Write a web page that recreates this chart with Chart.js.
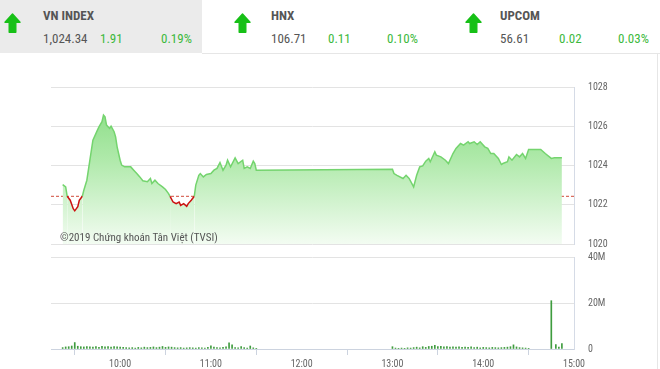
<!DOCTYPE html>
<html><head><meta charset="utf-8">
<script src="https://cdn.jsdelivr.net/npm/chart.js@4/dist/chart.umd.min.js"></script>
<style>
html,body{margin:0;padding:0;background:#fff;}
#wrap{position:relative;width:660px;height:369px;overflow:hidden;background:#fff;font-family:'Liberation Sans Narrow','Roboto Condensed','Arial Narrow',Roboto,sans-serif;}
.abs{position:absolute;white-space:nowrap;line-height:13px;font-size:13px;}
.name{font-weight:bold;color:#555;}
.val{color:#555;}
.chg{color:#3cb93c;}
canvas{position:absolute;left:0;}
</style>
</head><body>
<div id="wrap">
  <div class="abs" style="left:0;top:0;width:202px;height:53px;background:#ebebeb;"></div>
  <div class="abs" style="left:202px;top:53px;width:458px;height:1px;background:#e6e6e6;"></div>
  <div class="abs" style="left:657px;top:53px;width:1px;height:316px;background:#e6e6e6;"></div>
  <div id="hdr"></div>
  <canvas id="top" width="660" height="175" style="top:80px"></canvas>
  <canvas id="bot" width="660" height="119" style="top:250px"></canvas>
  <div class="abs" style="left:60px;top:231px;font-size:11px;color:#555;">©2019 Chứng khoán Tân Việt (TVSI)</div>
</div>
<script>
// ---- header data ----
const indexNames = ['VN INDEX','HNX','UPCOM'];
const indexValues = ['1,024.34','106.71','56.61'];
const indexChanges = ['1.91','0.11','0.02'];
const indexPercents = ['0.19%','0.10%','0.03%'];

// ---- index line data (time, value) ----
const refValue = 1022.43;
const lineTimes = ['09:22','09:24','09:25','09:27','09:29','09:30','09:32','09:33','09:35','09:36','09:38','09:40','09:42','09:45','09:46','09:48','09:49','09:50','09:51','09:53','09:54','09:56','09:57','09:58','10:00','10:01','10:03','10:07','10:09','10:11','10:13','10:15','10:18','10:20','10:21','10:23','10:25','10:28','10:30','10:32','10:33','10:35','10:37','10:39','10:40','10:42','10:44','10:45','10:47','10:49','10:50','10:52','10:53','10:55','10:57','11:00','11:02','11:04','11:06','11:08','11:10','11:11','11:13','11:16','11:18','11:21','11:22','11:24','11:26','11:28','11:29','11:30','13:00','13:01','13:03','13:07','13:09','13:11','13:14','13:16','13:18','13:20','13:22','13:24','13:25','13:28','13:29','13:32','13:35','13:37','13:40','13:42','13:45','13:47','13:50','13:51','13:54','13:56','13:58','14:01','14:03','14:05','14:07','14:10','14:12','14:13','14:16','14:17','14:19','14:22','14:24','14:26','14:28','14:30','14:34','14:38','14:41','14:45','14:47','14:52'];
const lineValues = [1023.03,1022.91,1022.43,1022.23,1021.80,1021.69,1021.90,1022.23,1022.43,1022.74,1023.25,1024.27,1025.29,1025.80,1025.97,1026.23,1026.57,1026.48,1026.06,1025.89,1026.00,1025.72,1025.46,1024.95,1024.27,1024.02,1023.93,1023.93,1023.76,1023.59,1023.42,1023.22,1023.17,1023.34,1023.08,1023.25,1023.08,1022.91,1022.78,1022.57,1022.43,1022.14,1022.06,1022.14,1021.97,1022.06,1021.92,1022.06,1022.23,1022.43,1023.00,1023.50,1023.59,1023.42,1023.54,1023.59,1023.76,1023.85,1024.15,1023.76,1024.02,1024.27,1023.93,1024.39,1024.10,1024.27,1023.85,1023.93,1023.85,1024.22,1024.10,1023.76,1023.81,1023.59,1023.50,1023.34,1023.50,1023.34,1022.91,1023.50,1023.93,1023.98,1024.22,1024.36,1024.19,1024.70,1024.53,1024.44,1024.27,1024.10,1024.61,1024.87,1025.12,1025.04,1025.21,1025.12,1025.21,1025.07,1025.21,1024.95,1024.87,1024.61,1024.61,1024.36,1024.05,1024.10,1024.19,1024.44,1024.27,1024.56,1024.44,1024.61,1024.36,1024.82,1024.82,1024.82,1024.61,1024.36,1024.39,1024.39];

// ---- volume data (time, millions) ----
const volTimes = ['09:22','09:24','09:26','09:28','09:30','09:32','09:34','09:36','09:38','09:40','09:42','09:44','09:46','09:48','09:50','09:52','09:54','09:56','09:58','10:00','10:02','10:04','10:06','10:08','10:10','10:12','10:14','10:16','10:18','10:20','10:22','10:24','10:26','10:28','10:30','10:32','10:34','10:36','10:38','10:40','10:42','10:44','10:46','10:48','10:50','10:52','10:54','10:56','10:58','11:00','11:02','11:04','11:06','11:08','11:10','11:12','11:14','11:16','11:18','11:20','11:22','11:24','11:26','11:28','11:30','13:00','13:02','13:04','13:06','13:08','13:10','13:12','13:14','13:16','13:18','13:20','13:22','13:24','13:26','13:28','13:30','13:32','13:34','13:36','13:38','13:40','13:42','13:44','13:46','13:48','13:50','13:52','13:54','13:56','13:58','14:00','14:02','14:04','14:06','14:08','14:10','14:12','14:14','14:16','14:18','14:20','14:22','14:24','14:26','14:28','14:30','14:45','14:48','14:50','14:52'];
const volValues = [0.6,0.9,1.0,1.3,2.8,1.2,1.0,0.9,1.1,0.9,0.8,1.0,0.7,1.2,0.9,1.0,0.8,1.1,0.9,0.8,0.7,0.6,0.5,0.6,0.4,0.7,0.5,0.8,0.6,0.7,0.9,0.6,0.8,1.1,0.7,0.9,0.8,0.6,0.5,0.6,0.4,0.5,0.6,0.5,0.4,0.6,0.5,0.4,0.7,1.4,0.8,0.6,0.5,0.7,0.9,2.7,1.8,0.6,0.5,1.1,0.6,0.4,1.3,0.5,0.3,1.0,0.4,0.3,0.4,0.3,0.5,0.4,0.6,0.8,0.5,1.0,0.7,1.1,1.2,1.6,1.0,1.2,0.9,1.0,0.8,0.9,0.8,0.9,0.7,0.8,0.7,0.9,0.6,0.8,0.5,0.7,0.6,0.5,0.7,0.6,0.5,0.6,0.7,0.8,1.0,1.8,0.9,0.6,0.5,0.4,0.3,21.0,1.9,0.8,2.4];

// ---- axis ticks ----
const timeTickLabels = ['10:00','11:00','12:00','13:00','14:00','15:00'];
const priceTicks = [1020,1022,1024,1026,1028];
const volTicks = [0,20,40];
const axisStart = '09:14';
const axisEnd = '15:00';

const toMin = t => { const [h,m] = t.split(':').map(Number); return (h-9)*60+m; };
const X_MIN = toMin(axisStart)+0.3, X_MAX = toMin(axisEnd);
const narrow = "'Liberation Sans Narrow','Roboto Condensed','Arial Narrow',Roboto,sans-serif";

// header
(function(){
  const colX = [[4,43,100,161],[234,271,328,387],[465,500,559,618]];
  const hdr = document.getElementById('hdr');
  let html='';
  indexNames.forEach((n,i)=>{
    const c = colX[i];
    html += `<svg class="abs" style="left:${c[0]}px;top:13px" width="17" height="20" viewBox="0 0 17 20"><polygon points="8.5,1 16,9.3 11.8,9.3 11.8,19.3 5.2,19.3 5.2,9.3 1,9.3" fill="#17c017" stroke="#17c017" stroke-width="1.4" stroke-linejoin="round"/></svg>`;
    html += `<div class="abs name" style="left:${c[1]}px;top:9px">${n}</div>`;
    html += `<div class="abs val" style="left:${c[1]}px;top:32px">${indexValues[i]}</div>`;
    html += `<div class="abs chg" style="left:${c[2]}px;top:32px">${indexChanges[i]}</div>`;
    html += `<div class="abs chg" style="left:${c[3]}px;top:32px">${indexPercents[i]}</div>`;
  });
  hdr.innerHTML = html;
})();

const linePts = lineTimes.map((t,i)=>({x:toMin(t), y:lineValues[i]}));
const volPts = volTimes.map((t,i)=>({x:toMin(t), y:volValues[i]*1e6}));
const tickVals = timeTickLabels.map(toMin);

const GREEN_LINE = '#74d46e', RED_LINE = '#cc1111';

new Chart(document.getElementById('top'), {
  type:'line',
  data:{datasets:[
    {data:linePts, borderColor:GREEN_LINE, borderWidth:1.5, pointRadius:0, tension:0, fill:'start',
     backgroundColor:(c)=>{const a=c.chart.chartArea; if(!a) return 'rgba(0,0,0,0)';
       const g=c.chart.ctx.createLinearGradient(0,a.top,0,a.bottom);
       g.addColorStop(0,'#7fd97a'); g.addColorStop(0.45,'#aee9a9'); g.addColorStop(1,'#f3fcf2'); return g;},
     segment:{borderColor:(s)=> (s.p0.parsed.y<=refValue+0.001 && s.p1.parsed.y<=refValue+0.001)? RED_LINE : GREEN_LINE}},
    {data:[{x:X_MIN,y:refValue},{x:X_MAX,y:refValue}], borderColor:'#d04a3a', borderDash:[3,2], borderWidth:1, pointRadius:0, fill:false}
  ]},
  options:{
    responsive:false, animation:false, events:[],
    layout:{padding:{left:51,top:7,right:0,bottom:11}},
    plugins:{legend:{display:false}, tooltip:{enabled:false}},
    scales:{
      x:{type:'linear', min:X_MIN, max:X_MAX, display:false},
      y:{position:'right', min:priceTicks[0], max:priceTicks[priceTicks.length-1],
         afterBuildTicks:(s)=>{s.ticks=priceTicks.map(v=>({value:v}));},
         ticks:{padding:0, color:'#666', font:{family:narrow,size:10}, callback:(v)=>String(v)},
         grid:{color:'#e3e3e3', drawTicks:true, tickLength:14, tickColor:'rgba(0,0,0,0)'},
         border:{color:'#d5dbe6'},
         afterFit:(s)=>{s.width=86;}}
    }
  }
});

new Chart(document.getElementById('bot'), {
  type:'bar',
  data:{datasets:[{data:volPts, backgroundColor:'#3f9c3f', barThickness:1, grouped:false}]},
  options:{
    responsive:false, animation:false, events:[],
    layout:{padding:{left:51,top:7,right:0,bottom:0}},
    plugins:{legend:{display:false}, tooltip:{enabled:false}},
    scales:{
      x:{type:'linear', min:X_MIN, max:X_MAX, offset:false,
         afterBuildTicks:(s)=>{s.ticks=tickVals.map(v=>({value:v}));},
         ticks:{autoSkip:false, maxRotation:0, padding:3, color:'#666', font:{family:narrow,size:10},
                callback:(v)=>{const i=tickVals.indexOf(v); return i>=0?timeTickLabels[i]:'';}},
         grid:{drawOnChartArea:false, drawTicks:true, tickLength:6, color:'#ccd3df'},
         border:{color:'#ccd3df'},
         afterFit:(s)=>{s.height=20;}},
      y:{position:'right', min:0, max:volTicks[volTicks.length-1]*1e6,
         afterBuildTicks:(s)=>{s.ticks=volTicks.map(v=>({value:v*1e6}));},
         ticks:{padding:0, color:'#666', font:{family:narrow,size:10},
                callback:(v)=> v===0?'0':(v/1e6)+'M'},
         grid:{color:'#e3e3e3', drawTicks:true, tickLength:14, tickColor:'rgba(0,0,0,0)'},
         border:{color:'#d5dbe6'},
         afterFit:(s)=>{s.width=86;}}
    }
  }
});
</script>
</body></html>
